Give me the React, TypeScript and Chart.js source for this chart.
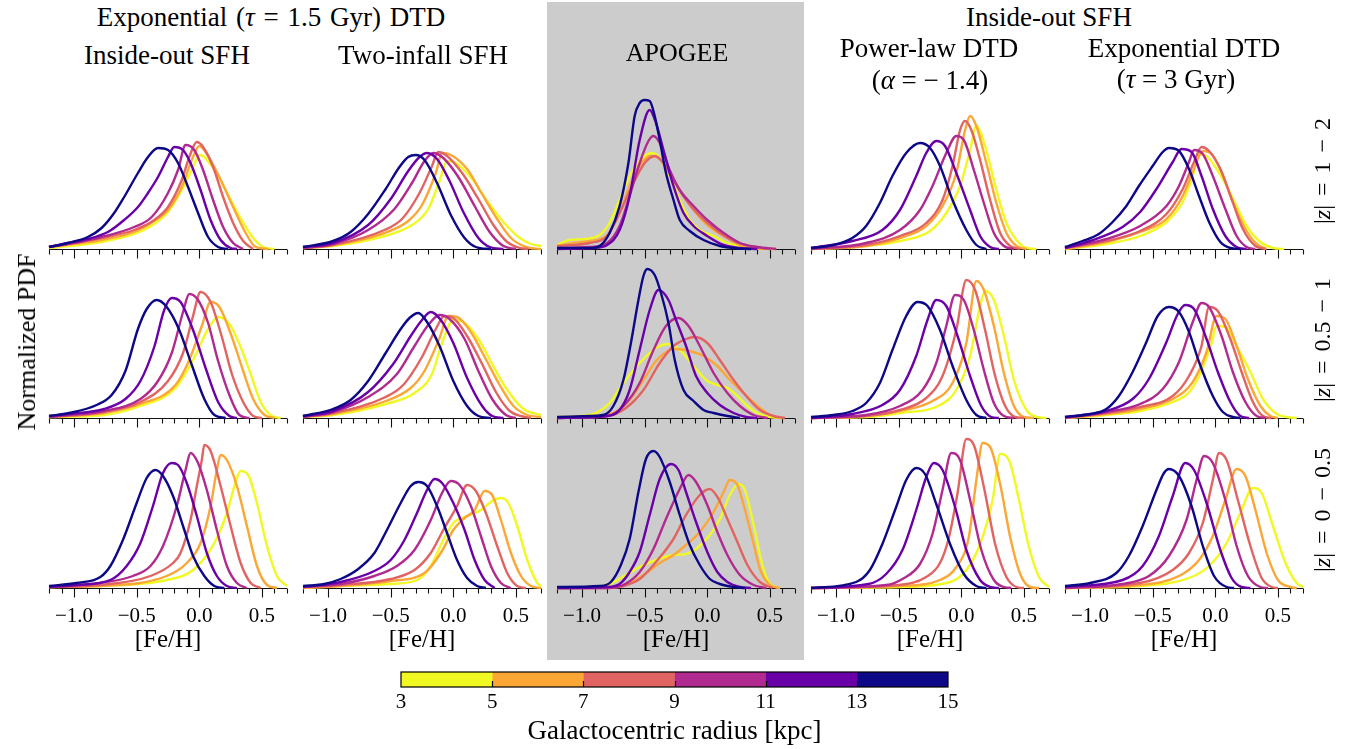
import React, { useEffect, useRef } from 'react';
import { Chart, registerables } from 'chart.js';
Chart.register(...registerables);

type Pt = [number, number];
type Curve = Pt[];

// ---------- shared axis / legend values ----------
const FEH_MIN = -1.2;
const FEH_MAX = 0.7;
const MAJOR_TICKS = [-1.0, -0.5, 0.0, 0.5];
const MINOR_TICKS = [-1.2, -1.1, -0.9, -0.8, -0.7, -0.6, -0.4, -0.3, -0.2, -0.1, 0.1, 0.2, 0.3, 0.4, 0.6, 0.7];
const RADIUS_BINS = ['3-5', '5-7', '7-9', '9-11', '11-13', '13-15'];
const BIN_COLORS = ['#f0f921', '#fca636', '#e16462', '#b12a90', '#6a00a8', '#0d0887'];
const CB_EDGES = [3, 5, 7, 9, 11, 13, 15];
const Y_MAX = 160;

// ---------- data: [Fe/H], normalized PDF (arbitrary units), one curve per radius bin (3-5 ... 13-15) ----------
// Exponential (tau=1.5 Gyr), inside-out SFH
const IO15_Z12: Curve[] = [
  [[-1.2,1],[-0.78,7],[-0.52,15],[-0.36,25],[-0.25,37],[-0.14,59],[-0.06,79],[0.005,94],[0.11,81],[0.21,59],[0.32,33],[0.43,11],[0.51,2],[0.6,0]],
  [[-1.2,2],[-0.78,9],[-0.52,17],[-0.36,28],[-0.25,39],[-0.14,62],[-0.06,89],[0.0,103],[0.05,97],[0.16,72],[0.27,42],[0.37,16],[0.45,2],[0.55,0]],
  [[-1.2,2],[-0.78,11],[-0.52,19],[-0.36,29],[-0.25,42],[-0.14,69],[-0.08,92],[-0.02,107],[0.03,102],[0.11,82],[0.19,52],[0.27,26],[0.35,8],[0.43,0]],
  [[-1.2,2],[-1.05,5],[-0.78,12],[-0.52,22],[-0.38,32],[-0.25,56],[-0.17,79],[-0.11,104],[-0.04,99],[0.03,79],[0.11,49],[0.19,22],[0.27,6],[0.35,0]],
  [[-1.2,2],[-1.05,6],[-0.89,10],[-0.73,17],[-0.6,29],[-0.49,42],[-0.41,56],[-0.33,72],[-0.25,92],[-0.2,102],[-0.13,99],[-0.07,86],[0.01,59],[0.09,29],[0.17,9],[0.25,1],[0.3,0]],
  [[-1.2,2],[-1.05,6],[-0.89,12],[-0.78,21],[-0.68,36],[-0.6,52],[-0.49,76],[-0.41,92],[-0.33,101],[-0.25,99],[-0.17,86],[-0.09,62],[-0.01,36],[0.07,12],[0.15,2],[0.23,0]],
];
const IO15_Z051: Curve[] = [
  [[-1.2,1],[-0.76,3],[-0.47,12],[-0.19,30],[-0.05,58],[0.07,89],[0.15,101],[0.24,94],[0.32,74],[0.41,44],[0.49,16],[0.58,2],[0.65,0]],
  [[-1.2,1],[-0.76,5],[-0.47,14],[-0.19,33],[-0.08,58],[0.02,92],[0.09,116],[0.16,111],[0.26,81],[0.35,47],[0.43,19],[0.52,3],[0.6,0]],
  [[-1.2,1],[-0.76,6],[-0.47,16],[-0.25,37],[-0.13,65],[-0.05,102],[0.01,126],[0.09,116],[0.18,81],[0.26,44],[0.35,16],[0.43,2],[0.5,0]],
  [[-1.2,1],[-1.04,3],[-0.76,7],[-0.47,19],[-0.33,37],[-0.22,65],[-0.13,106],[-0.08,124],[-0.01,118],[0.07,95],[0.15,57],[0.24,23],[0.32,3],[0.4,0]],
  [[-1.2,2],[-1.04,4],[-0.76,9],[-0.59,19],[-0.47,37],[-0.36,71],[-0.28,108],[-0.22,120],[-0.15,116],[-0.05,88],[0.05,50],[0.15,16],[0.24,2],[0.3,0]],
  [[-1.2,2],[-1.04,5],[-0.82,13],[-0.7,23],[-0.59,47],[-0.49,89],[-0.42,109],[-0.34,118],[-0.26,111],[-0.16,88],[-0.06,53],[0.04,19],[0.12,3],[0.21,0]],
];
const IO15_Z005: Curve[] = [
  [[-1.2,1],[-0.79,2],[-0.26,8],[-0.05,18],[0.12,45],[0.22,75],[0.3,110],[0.33,117],[0.39,113],[0.46,85],[0.54,42],[0.62,12],[0.7,2]],
  [[-1.2,1],[-0.79,2],[-0.26,12],[-0.1,25],[0.01,45],[0.09,82],[0.14,118],[0.17,133],[0.22,128],[0.3,102],[0.38,62],[0.46,22],[0.54,3],[0.62,0]],
  [[-1.2,1],[-0.79,3],[-0.39,12],[-0.21,25],[-0.15,35],[-0.07,68],[-0.02,102],[0.02,128],[0.04,143],[0.09,137],[0.17,102],[0.25,62],[0.33,25],[0.41,5],[0.49,0]],
  [[-1.2,1],[-0.79,5],[-0.53,12],[-0.39,22],[-0.29,42],[-0.18,82],[-0.11,118],[-0.07,135],[-0.01,125],[0.06,98],[0.14,58],[0.22,22],[0.3,5],[0.38,0]],
  [[-1.2,1],[-0.98,3],[-0.71,8],[-0.58,22],[-0.47,45],[-0.37,82],[-0.29,115],[-0.22,125],[-0.17,123],[-0.1,105],[-0.02,72],[0.06,35],[0.14,12],[0.22,2],[0.3,0]],
  [[-1.2,2],[-0.98,5],[-0.79,11],[-0.71,22],[-0.61,48],[-0.5,85],[-0.42,110],[-0.35,118],[-0.29,112],[-0.21,92],[-0.13,62],[-0.05,32],[0.04,12],[0.12,2],[0.2,0]],
];

// Exponential (tau=1.5 Gyr), two-infall SFH
const TI15_Z12: Curve[] = [
  [[-1.2,1],[-0.96,3],[-0.55,13],[-0.33,24],[-0.2,40],[-0.11,68],[-0.05,88],[0.02,86],[0.15,70],[0.27,48],[0.4,27],[0.52,12],[0.62,5],[0.7,3]],
  [[-1.2,1],[-0.96,4],[-0.55,16],[-0.36,28],[-0.25,44],[-0.14,76],[-0.09,96],[-0.02,94],[0.11,80],[0.22,57],[0.35,30],[0.46,11],[0.58,2],[0.7,0]],
  [[-1.2,1],[-0.96,4],[-0.55,19],[-0.41,30],[-0.27,56],[-0.17,83],[-0.12,97],[-0.06,94],[0.07,76],[0.2,50],[0.32,24],[0.43,7],[0.53,1],[0.6,0]],
  [[-1.2,1],[-0.96,5],[-0.68,19],[-0.47,40],[-0.33,66],[-0.23,88],[-0.16,96],[-0.08,91],[0.04,72],[0.17,43],[0.29,17],[0.4,3],[0.5,0]],
  [[-1.2,2],[-0.96,6],[-0.68,24],[-0.5,50],[-0.36,78],[-0.27,92],[-0.21,96],[-0.13,90],[-0.03,68],[0.08,37],[0.2,11],[0.29,2],[0.4,0]],
  [[-1.2,2],[-0.96,8],[-0.82,17],[-0.68,35],[-0.54,60],[-0.43,82],[-0.36,92],[-0.3,94],[-0.23,89],[-0.13,66],[-0.02,34],[0.09,11],[0.18,2],[0.3,0]],
];
const TI15_Z051: Curve[] = [
  [[-1.2,1],[-0.96,3],[-0.54,14],[-0.31,25],[-0.17,44],[-0.09,75],[0.0,98],[0.08,96],[0.2,79],[0.31,54],[0.42,30],[0.56,9],[0.7,3]],
  [[-1.2,1],[-0.96,4],[-0.54,17],[-0.34,30],[-0.23,47],[-0.11,80],[-0.04,102],[0.03,101],[0.14,86],[0.25,61],[0.37,33],[0.48,12],[0.59,3],[0.7,1]],
  [[-1.2,1],[-0.96,5],[-0.54,21],[-0.4,33],[-0.25,61],[-0.14,89],[-0.07,102],[0.0,100],[0.11,82],[0.23,54],[0.34,26],[0.45,7],[0.54,2],[0.62,0]],
  [[-1.2,1],[-0.96,6],[-0.68,21],[-0.45,44],[-0.31,72],[-0.2,93],[-0.11,103],[-0.03,99],[0.09,79],[0.2,47],[0.31,19],[0.42,3],[0.5,0]],
  [[-1.2,2],[-0.96,7],[-0.68,26],[-0.48,54],[-0.34,82],[-0.25,98],[-0.18,106],[-0.1,98],[0.0,75],[0.11,40],[0.23,12],[0.31,2],[0.4,0]],
  [[-1.2,2],[-0.96,9],[-0.82,18],[-0.68,37],[-0.54,65],[-0.42,89],[-0.35,100],[-0.28,105],[-0.21,96],[-0.11,72],[0.0,37],[0.11,12],[0.2,2],[0.3,0]],
];
const TI15_Z005: Curve[] = [
  [[-1.2,0],[-0.9,2],[-0.5,4],[-0.29,8],[-0.18,22],[-0.08,48],[0.0,65],[0.11,72],[0.22,78],[0.31,87],[0.38,90],[0.44,85],[0.51,62],[0.59,28],[0.67,5],[0.7,2]],
  [[-1.2,0],[-0.9,2],[-0.5,7],[-0.23,15],[-0.1,35],[0.0,58],[0.09,70],[0.17,78],[0.25,97],[0.31,93],[0.38,68],[0.46,35],[0.54,12],[0.62,2],[0.7,0]],
  [[-1.2,1],[-0.9,3],[-0.5,9],[-0.31,18],[-0.18,35],[-0.08,58],[0.03,82],[0.11,103],[0.18,97],[0.26,75],[0.35,42],[0.43,15],[0.51,2],[0.58,0]],
  [[-1.2,1],[-0.9,4],[-0.63,12],[-0.45,22],[-0.31,38],[-0.18,68],[-0.09,95],[-0.02,107],[0.05,103],[0.14,82],[0.22,52],[0.3,22],[0.38,5],[0.46,0]],
  [[-1.2,1],[-0.9,6],[-0.63,17],[-0.5,28],[-0.39,48],[-0.29,75],[-0.21,98],[-0.15,109],[-0.09,105],[0.0,85],[0.09,58],[0.17,28],[0.25,8],[0.33,0]],
  [[-1.2,2],[-1.03,4],[-0.9,9],[-0.77,18],[-0.63,35],[-0.53,58],[-0.42,85],[-0.34,102],[-0.28,106],[-0.21,102],[-0.13,82],[-0.05,55],[0.03,28],[0.11,10],[0.19,2],[0.26,0]],
];

// APOGEE
const APO_Z12: Curve[] = [
  [[-1.2,4],[-1.1,9],[-0.97,10],[-0.86,14],[-0.78,26],[-0.7,49],[-0.62,73],[-0.54,88],[-0.45,96],[-0.38,91],[-0.3,73],[-0.22,49],[-0.14,29],[-0.06,19],[0.05,13],[0.16,6],[0.29,2],[0.45,0]],
  [[-1.2,3],[-1.07,6],[-0.94,8],[-0.8,14],[-0.7,36],[-0.62,63],[-0.54,83],[-0.46,93],[-0.4,92],[-0.33,81],[-0.22,59],[-0.11,39],[0.0,24],[0.13,13],[0.26,4],[0.4,1],[0.55,0]],
  [[-1.2,3],[-1.07,4],[-0.94,6],[-0.8,13],[-0.7,36],[-0.59,66],[-0.5,86],[-0.42,93],[-0.35,86],[-0.27,69],[-0.17,49],[-0.06,33],[0.08,18],[0.21,8],[0.37,2],[0.5,0]],
  [[-1.2,1],[-0.94,2],[-0.8,6],[-0.7,23],[-0.62,53],[-0.54,86],[-0.47,108],[-0.43,113],[-0.38,106],[-0.3,79],[-0.22,59],[-0.11,43],[0.0,29],[0.13,16],[0.26,6],[0.4,2],[0.55,0]],
  [[-1.2,0],[-0.91,1],[-0.8,4],[-0.7,19],[-0.62,53],[-0.54,109],[-0.46,139],[-0.41,126],[-0.35,99],[-0.27,63],[-0.19,36],[-0.11,23],[0.0,13],[0.13,4],[0.26,1],[0.4,0]],
  [[-1.2,1],[-0.94,1],[-0.86,3],[-0.78,16],[-0.7,43],[-0.63,86],[-0.58,133],[-0.54,146],[-0.5,149],[-0.46,148],[-0.42,133],[-0.38,109],[-0.33,76],[-0.27,49],[-0.22,29],[-0.14,18],[-0.03,9],[0.1,3],[0.21,1],[0.35,0]],
];
const APO_Z051: Curve[] = [
  [[-1.2,1],[-1.02,2],[-0.89,5],[-0.78,15],[-0.67,35],[-0.54,55],[-0.41,70],[-0.31,74],[-0.22,68],[-0.11,52],[0.0,37],[0.08,33],[0.16,30],[0.24,22],[0.32,12],[0.4,5],[0.5,1],[0.6,0]],
  [[-1.2,0],[-0.94,2],[-0.75,5],[-0.62,18],[-0.51,38],[-0.41,57],[-0.3,68],[-0.25,69],[-0.14,67],[-0.03,62],[0.08,52],[0.18,38],[0.29,25],[0.4,12],[0.5,3],[0.58,0]],
  [[-1.2,0],[-0.8,2],[-0.65,10],[-0.51,28],[-0.38,55],[-0.27,72],[-0.17,79],[-0.1,81],[0.0,75],[0.1,58],[0.21,38],[0.31,22],[0.42,8],[0.53,2],[0.62,0]],
  [[-1.2,0],[-0.8,2],[-0.67,12],[-0.54,35],[-0.43,68],[-0.33,92],[-0.23,100],[-0.15,92],[-0.06,72],[0.05,45],[0.16,25],[0.26,12],[0.37,3],[0.48,0]],
  [[-1.2,0],[-0.8,2],[-0.7,8],[-0.62,28],[-0.54,68],[-0.46,108],[-0.39,128],[-0.31,118],[-0.25,98],[-0.17,72],[-0.09,42],[0.0,25],[0.1,13],[0.21,5],[0.31,1],[0.4,0]],
  [[-1.2,1],[-0.94,2],[-0.83,3],[-0.75,12],[-0.67,38],[-0.61,75],[-0.55,118],[-0.51,142],[-0.48,149],[-0.42,143],[-0.37,125],[-0.31,95],[-0.26,58],[-0.19,28],[-0.11,17],[-0.03,8],[0.05,5],[0.16,2],[0.26,0]],
];
const APO_Z005: Curve[] = [
  [[-1.2,0],[-0.94,1],[-0.8,3],[-0.65,13],[-0.54,21],[-0.41,28],[-0.27,33],[-0.17,34],[-0.09,39],[0.02,53],[0.1,69],[0.18,93],[0.25,104],[0.3,98],[0.37,63],[0.44,23],[0.5,4],[0.58,0]],
  [[-1.2,0],[-0.8,1],[-0.65,3],[-0.51,13],[-0.38,25],[-0.27,33],[-0.17,43],[-0.06,56],[0.05,76],[0.13,96],[0.18,108],[0.24,103],[0.29,83],[0.36,49],[0.42,19],[0.5,3],[0.58,0]],
  [[-1.2,0],[-0.8,0],[-0.67,2],[-0.54,9],[-0.41,26],[-0.27,49],[-0.17,73],[-0.06,93],[0.02,99],[0.09,89],[0.16,69],[0.24,46],[0.32,23],[0.42,6],[0.52,0]],
  [[-1.2,0],[-0.8,0],[-0.67,3],[-0.54,16],[-0.43,39],[-0.33,69],[-0.22,99],[-0.15,113],[-0.09,106],[0.0,83],[0.08,56],[0.16,33],[0.26,13],[0.37,3],[0.47,0]],
  [[-1.2,0],[-0.8,1],[-0.7,4],[-0.62,16],[-0.54,36],[-0.46,73],[-0.38,109],[-0.29,124],[-0.23,118],[-0.17,96],[-0.09,66],[0.0,36],[0.08,16],[0.16,6],[0.26,1],[0.35,0]],
  [[-1.2,1],[-0.86,2],[-0.77,6],[-0.69,23],[-0.62,49],[-0.55,96],[-0.49,129],[-0.43,137],[-0.38,131],[-0.3,106],[-0.22,73],[-0.14,43],[-0.06,23],[0.02,9],[0.1,4],[0.21,1],[0.3,0]],
];

// Inside-out SFH, power-law DTD (alpha=-1.4)
const PL14_Z12: Curve[] = [
  [[-1.2,0],[-0.76,3],[-0.49,8],[-0.25,18],[-0.12,36],[-0.01,63],[0.07,99],[0.12,123],[0.19,103],[0.28,59],[0.36,26],[0.44,9],[0.52,1],[0.6,0]],
  [[-1.2,0],[-0.76,3],[-0.49,11],[-0.28,23],[-0.15,43],[-0.04,76],[0.03,119],[0.07,133],[0.12,123],[0.2,86],[0.28,46],[0.36,16],[0.44,3],[0.52,0]],
  [[-1.2,0],[-0.76,4],[-0.49,13],[-0.28,26],[-0.15,49],[-0.07,83],[-0.01,119],[0.03,128],[0.08,119],[0.15,89],[0.23,49],[0.31,16],[0.39,3],[0.47,0]],
  [[-1.2,0],[-0.76,6],[-0.49,19],[-0.33,39],[-0.23,63],[-0.12,96],[-0.04,113],[0.02,109],[0.1,79],[0.18,46],[0.26,16],[0.34,3],[0.42,0]],
  [[-1.2,1],[-0.87,8],[-0.63,19],[-0.49,39],[-0.36,73],[-0.28,96],[-0.2,108],[-0.13,103],[-0.04,76],[0.07,39],[0.15,13],[0.23,2],[0.3,0]],
  [[-1.2,1],[-1.02,4],[-0.87,11],[-0.76,23],[-0.65,46],[-0.55,73],[-0.44,96],[-0.33,106],[-0.25,101],[-0.17,83],[-0.07,49],[0.04,19],[0.12,4],[0.2,0]],
];
const PL14_Z051: Curve[] = [
  [[-1.2,0],[-0.76,1],[-0.49,5],[-0.17,13],[-0.04,28],[0.07,62],[0.15,112],[0.19,127],[0.26,118],[0.34,82],[0.42,38],[0.52,8],[0.6,1],[0.68,0]],
  [[-1.2,0],[-0.76,2],[-0.49,7],[-0.23,17],[-0.07,35],[0.04,75],[0.12,137],[0.18,128],[0.26,92],[0.34,45],[0.42,12],[0.5,1],[0.58,0]],
  [[-1.2,0],[-0.76,2],[-0.49,8],[-0.28,20],[-0.15,42],[-0.04,88],[0.04,138],[0.11,128],[0.19,88],[0.27,42],[0.35,12],[0.43,1],[0.5,0]],
  [[-1.2,0],[-0.76,3],[-0.49,12],[-0.31,28],[-0.2,55],[-0.12,92],[-0.05,123],[0.02,118],[0.1,88],[0.18,48],[0.26,15],[0.34,2],[0.42,0]],
  [[-1.2,0],[-0.87,4],[-0.63,13],[-0.49,28],[-0.36,62],[-0.27,98],[-0.2,118],[-0.12,112],[-0.03,82],[0.07,42],[0.16,12],[0.24,1],[0.3,0]],
  [[-1.2,1],[-1.02,3],[-0.87,7],[-0.76,15],[-0.65,35],[-0.55,68],[-0.44,102],[-0.35,116],[-0.27,112],[-0.17,88],[-0.07,52],[0.04,18],[0.12,3],[0.2,0]],
];
const PL14_Z005: Curve[] = [
  [[-1.2,0],[-0.5,1],[-0.09,6],[0.04,18],[0.15,44],[0.25,88],[0.31,134],[0.38,128],[0.46,88],[0.54,41],[0.62,11],[0.7,1]],
  [[-1.2,0],[-0.5,2],[-0.17,8],[-0.04,21],[0.06,51],[0.12,108],[0.17,145],[0.23,141],[0.31,104],[0.39,51],[0.47,14],[0.55,1],[0.62,0]],
  [[-1.2,0],[-0.5,3],[-0.28,11],[-0.17,25],[-0.1,50],[-0.03,95],[0.04,149],[0.1,143],[0.18,101],[0.27,44],[0.36,11],[0.44,1],[0.5,0]],
  [[-1.2,0],[-0.6,3],[-0.47,9],[-0.33,24],[-0.23,54],[-0.15,98],[-0.08,135],[-0.01,128],[0.07,88],[0.16,38],[0.26,8],[0.34,1],[0.4,0]],
  [[-1.2,0],[-0.74,4],[-0.6,14],[-0.47,38],[-0.36,78],[-0.28,111],[-0.22,125],[-0.15,118],[-0.05,81],[0.04,38],[0.15,8],[0.23,1],[0.3,0]],
  [[-1.2,0],[-0.84,6],[-0.73,18],[-0.63,44],[-0.52,81],[-0.44,108],[-0.36,120],[-0.29,114],[-0.2,84],[-0.09,44],[0.02,14],[0.12,2],[0.2,0]],
];

// Inside-out SFH, exponential DTD (tau=3 Gyr)
const EXP3_Z12: Curve[] = [
  [[-1.2,0],[-0.87,5],[-0.6,13],[-0.39,27],[-0.26,47],[-0.18,73],[-0.13,95],[-0.07,93],[0.01,80],[0.09,63],[0.17,43],[0.25,23],[0.36,7],[0.46,1],[0.55,0]],
  [[-1.2,0],[-0.87,7],[-0.6,17],[-0.39,30],[-0.26,53],[-0.17,80],[-0.1,98],[-0.03,95],[0.05,77],[0.14,47],[0.24,20],[0.33,5],[0.41,0]],
  [[-1.2,1],[-0.87,8],[-0.6,18],[-0.39,35],[-0.26,60],[-0.17,87],[-0.11,102],[-0.05,98],[0.04,80],[0.13,50],[0.22,20],[0.32,3],[0.4,0]],
  [[-1.2,1],[-0.87,10],[-0.6,23],[-0.39,43],[-0.29,63],[-0.21,87],[-0.17,99],[-0.1,95],[-0.02,73],[0.08,40],[0.17,13],[0.25,2],[0.32,0]],
  [[-1.2,1],[-1.0,8],[-0.74,22],[-0.6,37],[-0.47,60],[-0.34,87],[-0.27,100],[-0.19,97],[-0.11,73],[-0.02,40],[0.08,13],[0.17,2],[0.25,0]],
  [[-1.2,2],[-1.06,8],[-0.93,15],[-0.82,27],[-0.71,43],[-0.61,63],[-0.5,83],[-0.42,97],[-0.37,101],[-0.29,98],[-0.21,80],[-0.13,53],[-0.05,27],[0.04,7],[0.12,1],[0.2,0]],
];
const EXP3_Z051: Curve[] = [
  [[-1.2,0],[-0.87,3],[-0.6,7],[-0.34,16],[-0.2,27],[-0.1,50],[-0.03,75],[0.01,92],[0.08,91],[0.17,72],[0.28,46],[0.38,19],[0.49,4],[0.57,1],[0.65,0]],
  [[-1.2,0],[-0.87,4],[-0.6,9],[-0.34,19],[-0.18,36],[-0.07,66],[0.01,102],[0.08,99],[0.17,72],[0.26,39],[0.36,12],[0.44,2],[0.5,0]],
  [[-1.2,0],[-0.87,5],[-0.6,11],[-0.34,22],[-0.21,42],[-0.11,72],[-0.05,111],[0.02,107],[0.12,79],[0.21,46],[0.3,16],[0.38,2],[0.45,0]],
  [[-1.2,0],[-0.87,6],[-0.6,14],[-0.42,29],[-0.29,56],[-0.18,96],[-0.11,115],[-0.05,111],[0.05,82],[0.14,46],[0.24,16],[0.33,2],[0.4,0]],
  [[-1.2,1],[-0.87,7],[-0.66,19],[-0.53,39],[-0.39,76],[-0.3,104],[-0.24,113],[-0.17,109],[-0.07,79],[0.02,46],[0.12,16],[0.2,2],[0.27,0]],
  [[-1.2,1],[-1.0,4],[-0.87,9],[-0.77,22],[-0.66,46],[-0.55,76],[-0.46,102],[-0.37,111],[-0.29,106],[-0.21,86],[-0.13,56],[-0.02,22],[0.06,6],[0.14,1],[0.2,0]],
];
const EXP3_Z005: Curve[] = [
  [[-1.2,0],[-0.6,2],[-0.21,10],[-0.05,22],[0.09,45],[0.2,75],[0.3,100],[0.37,95],[0.46,62],[0.56,25],[0.65,5],[0.7,1]],
  [[-1.2,0],[-0.6,3],[-0.29,12],[-0.13,28],[-0.02,52],[0.08,88],[0.17,119],[0.24,112],[0.32,78],[0.41,35],[0.5,8],[0.6,1],[0.65,0]],
  [[-1.2,0],[-0.6,5],[-0.34,18],[-0.21,35],[-0.1,65],[-0.02,108],[0.03,135],[0.09,128],[0.18,88],[0.28,42],[0.37,10],[0.45,1],[0.5,0]],
  [[-1.2,0],[-0.74,4],[-0.53,12],[-0.37,32],[-0.23,68],[-0.15,108],[-0.09,132],[-0.02,125],[0.08,88],[0.17,42],[0.26,12],[0.36,1],[0.42,0]],
  [[-1.2,1],[-0.74,8],[-0.58,22],[-0.45,52],[-0.34,92],[-0.24,125],[-0.17,118],[-0.07,85],[0.04,38],[0.13,10],[0.21,1],[0.28,0]],
  [[-1.2,2],[-1.0,5],[-0.79,15],[-0.69,32],[-0.58,62],[-0.47,98],[-0.41,115],[-0.37,119],[-0.29,112],[-0.19,82],[-0.1,42],[-0.01,12],[0.09,1],[0.15,0]],
];

const PANEL_GRID: Curve[][][] = [
  [IO15_Z12, TI15_Z12, APO_Z12, PL14_Z12, EXP3_Z12],
  [IO15_Z051, TI15_Z051, APO_Z051, PL14_Z051, EXP3_Z051],
  [IO15_Z005, TI15_Z005, APO_Z005, PL14_Z005, EXP3_Z005],
];

// ---------- layout ----------
const FONT = "'Liberation Serif', 'Times New Roman', serif";
const COL_LEFT = [49, 303, 557, 811, 1065];
const AXIS_W = 238;
const ROW_BASE = [249, 418, 588];
const PLOT_H = 160;
const PAD_T = 5;
const PAD_X = 20;
const XH_BARE = 14;
const XH_LAB = 72;

const fmtTick = (v: number) => (v < 0 ? '\u2212' + Math.abs(v).toFixed(1) : v.toFixed(1));

const fehAxisPlugin = {
  id: 'fehAxis',
  beforeDatasetsDraw(chart: any) {
    const { ctx, chartArea } = chart;
    const xs = chart.scales.x;
    const y0 = Math.round(chartArea.bottom) + 0.5;
    ctx.save();
    ctx.strokeStyle = '#111';
    ctx.lineWidth = 1.1;
    ctx.beginPath();
    ctx.moveTo(xs.left, y0);
    ctx.lineTo(xs.right, y0);
    MINOR_TICKS.forEach((v) => {
      const px = Math.round(xs.getPixelForValue(v)) + 0.5;
      ctx.moveTo(px, y0);
      ctx.lineTo(px, y0 + 5);
    });
    MAJOR_TICKS.forEach((v) => {
      const px = Math.round(xs.getPixelForValue(v)) + 0.5;
      ctx.moveTo(px, y0);
      ctx.lineTo(px, y0 + 9);
    });
    ctx.stroke();
    ctx.restore();
  },
};

function Panel({ curves, left, base, labelled }: { curves: Curve[]; left: number; base: number; labelled: boolean }) {
  const ref = useRef<HTMLCanvasElement | null>(null);
  const w = AXIS_W + 2 * PAD_X;
  const h = PAD_T + PLOT_H + (labelled ? XH_LAB : XH_BARE);
  useEffect(() => {
    if (!ref.current) return;
    const datasets = curves
      .map((pts, i) => ({
        label: RADIUS_BINS[i] + ' kpc',
        data: pts.map(([x, y]) => ({ x, y })),
        borderColor: BIN_COLORS[i],
        borderWidth: 2.4,
        pointRadius: 0,
        fill: false,
        cubicInterpolationMode: 'monotone' as const,
        clip: false as any,
      }))
      .reverse();
    const chart = new Chart(ref.current, {
      type: 'line',
      data: { datasets },
      options: {
        animation: false,
        responsive: false,
        devicePixelRatio: 1,
        events: [],
        layout: { padding: { left: PAD_X, right: PAD_X, top: PAD_T, bottom: 0 } },
        plugins: { legend: { display: false }, tooltip: { enabled: false } },
        scales: {
          x: {
            type: 'linear',
            min: FEH_MIN,
            max: FEH_MAX,
            grid: { display: false, drawTicks: false },
            border: { display: false },
            afterBuildTicks: (s: any) => {
              s.ticks = MAJOR_TICKS.map((v) => ({ value: v }));
            },
            afterFit: (s: any) => {
              s.height = labelled ? XH_LAB : XH_BARE;
            },
            ticks: {
              display: labelled,
              autoSkip: false,
              maxRotation: 0,
              padding: 16,
              color: '#000',
              font: { family: FONT, size: 21 },
              callback: (v: any) => fmtTick(Number(v)),
            },
            title: {
              display: labelled,
              text: '[Fe/H]',
              color: '#000',
              font: { family: FONT, size: 25 },
              padding: { top: 0, bottom: 5 },
            },
          },
          y: { display: false, min: 0, max: Y_MAX },
        },
      },
      plugins: [fehAxisPlugin],
    } as any);
    return () => chart.destroy();
  }, [curves, labelled]);
  return (
    <canvas
      ref={ref}
      width={w}
      height={h}
      style={{ position: 'absolute', left: left - PAD_X, top: base - PLOT_H - PAD_T, width: w, height: h }}
    />
  );
}

const cbPlugin = {
  id: 'cbFrame',
  afterDatasetsDraw(chart: any) {
    const { ctx, chartArea } = chart;
    const xs = chart.scales.x;
    ctx.save();
    ctx.strokeStyle = '#000';
    ctx.lineWidth = 1.2;
    ctx.beginPath();
    CB_EDGES.slice(1, -1).forEach((v) => {
      const px = Math.round(xs.getPixelForValue(v)) + 0.5;
      ctx.moveTo(px, chartArea.bottom);
      ctx.lineTo(px, chartArea.bottom - 6);
    });
    ctx.stroke();
    ctx.strokeRect(chartArea.left, chartArea.top, chartArea.right - chartArea.left, chartArea.bottom - chartArea.top);
    ctx.restore();
  },
};

function ColorBar() {
  const ref = useRef<HTMLCanvasElement | null>(null);
  const L = 401, R = 948, T = 672, B = 687;
  const padX = 30, padT = 2, xh = 64;
  const w = R - L + 2 * padX;
  const h = padT + (B - T) + xh;
  useEffect(() => {
    if (!ref.current) return;
    const chart = new Chart(ref.current, {
      type: 'bar',
      data: {
        labels: ['R'],
        datasets: BIN_COLORS.map((c, i) => ({
          label: RADIUS_BINS[i],
          data: [[CB_EDGES[i], CB_EDGES[i + 1]]],
          backgroundColor: c,
          borderWidth: 0,
          grouped: false,
          barPercentage: 1,
          categoryPercentage: 1,
        })),
      },
      options: {
        indexAxis: 'y',
        animation: false,
        responsive: false,
        devicePixelRatio: 1,
        events: [],
        layout: { padding: { left: padX, right: padX, top: padT, bottom: 0 } },
        plugins: { legend: { display: false }, tooltip: { enabled: false } },
        scales: {
          x: {
            type: 'linear',
            min: CB_EDGES[0],
            max: CB_EDGES[CB_EDGES.length - 1],
            grid: { display: false, drawTicks: false },
            border: { display: false },
            afterBuildTicks: (s: any) => {
              s.ticks = CB_EDGES.map((v) => ({ value: v }));
            },
            afterFit: (s: any) => {
              s.height = xh;
            },
            ticks: { autoSkip: false, maxRotation: 0, padding: 3, color: '#000', font: { family: FONT, size: 21 } },
            title: {
              display: true,
              text: 'Galactocentric radius [kpc]',
              color: '#000',
              font: { family: FONT, size: 27 },
              padding: { top: 0, bottom: 3 },
            },
          },
          y: { display: false },
        },
      },
      plugins: [cbPlugin],
    } as any);
    return () => chart.destroy();
  }, []);
  return (
    <canvas ref={ref} width={w} height={h} style={{ position: 'absolute', left: L - padX, top: T - padT, width: w, height: h }} />
  );
}

const txt = (x: number, y: number, size: number, content: React.ReactNode, rotate = false, extra: any = {}) => (
  <div
    style={{
      position: 'absolute',
      left: x,
      top: y,
      transform: rotate ? 'translate(-50%, -50%) rotate(-90deg)' : 'translate(-50%, -50%)',
      fontFamily: FONT,
      fontSize: size,
      lineHeight: 1,
      whiteSpace: 'nowrap',
      color: '#000',
      ...extra,
    }}
  >
    {content}
  </div>
);

export default function App() {
  return (
    <div style={{ position: 'fixed', left: 0, top: 0, width: 1354, height: 749, background: '#fff', overflow: 'hidden' }}>
      <div style={{ position: 'absolute', left: 547, top: 2, width: 257, height: 658, background: '#cccccc' }} />
      {PANEL_GRID.map((row, r) =>
        row.map((curves, c) => (
          <Panel key={r + '-' + c} curves={curves} left={COL_LEFT[c]} base={ROW_BASE[r]} labelled={r === 2} />
        ))
      )}
      <ColorBar />
      {txt(271, 17, 27, <span>Exponential (<i>τ</i> = 1.5 Gyr) DTD</span>, false, { wordSpacing: 2 })}
      {txt(167, 55, 27, 'Inside-out SFH')}
      {txt(423, 55, 27, 'Two-infall SFH')}
      {txt(677, 53, 26, 'APOGEE')}
      {txt(1049, 17, 27, 'Inside-out SFH')}
      {txt(929, 48, 27, 'Power-law DTD')}
      {txt(930, 80, 27, <span>(<i>α</i> = − 1.4)</span>)}
      {txt(1184, 48, 27, 'Exponential DTD')}
      {txt(1176, 79, 27, <span>(<i>τ</i> = 3 Gyr)</span>)}
      {txt(27, 342, 26, 'Normalized PDF', true)}
      {txt(1322, 171, 24, <span style={{ wordSpacing: 3 }}>|<i>z</i>| = 1 − 2</span>, true)}
      {txt(1322, 340, 24, <span style={{ wordSpacing: 3 }}>|<i>z</i>| = 0.5 − 1</span>, true)}
      {txt(1322, 510, 24, <span style={{ wordSpacing: 3 }}>|<i>z</i>| = 0 − 0.5</span>, true)}
    </div>
  );
}
